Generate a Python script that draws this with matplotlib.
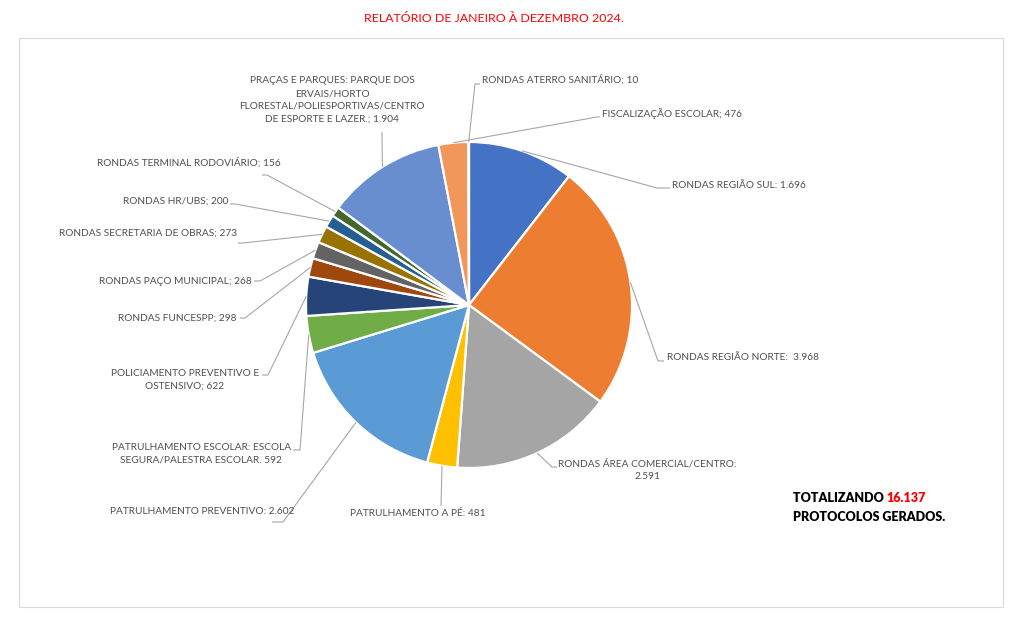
import matplotlib
matplotlib.use("Agg")
import matplotlib.pyplot as plt
import numpy as np
from matplotlib.patches import Rectangle

plt.rcParams['font.family'] = ['Lato', 'DejaVu Sans']

# ---------------- data ----------------
categories = [
    "RONDAS REGIÃO SUL",
    "RONDAS REGIÃO NORTE",
    "RONDAS ÁREA COMERCIAL/CENTRO",
    "PATRULHAMENTO A PÉ",
    "PATRULHAMENTO PREVENTIVO",
    "PATRULHAMENTO ESCOLAR: ESCOLA\nSEGURA/PALESTRA ESCOLAR",
    "POLICIAMENTO PREVENTIVO E\nOSTENSIVO",
    "RONDAS FUNCESPP",
    "RONDAS PAÇO MUNICIPAL",
    "RONDAS SECRETARIA DE OBRAS",
    "RONDAS HR/UBS",
    "RONDAS TERMINAL RODOVIÁRIO",
    "PRAÇAS E PARQUES: PARQUE DOS\nERVAIS/HORTO\nFLORESTAL/POLIESPORTIVAS/CENTRO\nDE ESPORTE E LAZER.",
    "FISCALIZAÇÃO ESCOLAR",
    "RONDAS ATERRO SANITÁRIO",
]
values = [1696, 3968, 2591, 481, 2602, 592, 622, 298, 268, 273, 200, 156, 1904, 476, 10]
separators = [": ", ":  ", ":\n", ": ", ": ", ". ", "; ", "; ", "; ", "; ", "; ", "; ", "; ", "; ", "; "]
title = "RELATÓRIO DE JANEIRO À DEZEMBRO 2024."

# ---------------- styles ----------------
colors = ["#4472C4", "#ED7D31", "#A5A5A5", "#FFC000", "#5B9BD5", "#70AD47",
          "#264478", "#9E480E", "#636363", "#997300", "#255E91", "#43682B",
          "#698ED0", "#F1975A", "#B7B7B7"]

W, H = 1024, 621
fig = plt.figure(figsize=(W / 100, H / 100), dpi=100)
ax = fig.add_axes([0, 0, 1, 1])

def Y(y):
    return H - y

cx, cy, R = 469, 305, 163
wedges, _ = ax.pie(values, colors=colors, startangle=90, counterclock=False,
                   center=(cx, Y(cy)), radius=R,
                   wedgeprops=dict(edgecolor="white", linewidth=1.6))
ax.set_xlim(0, W)
ax.set_ylim(0, H)
ax.set_aspect('equal')
ax.axis('off')

# border
ax.add_patch(Rectangle((19, Y(607)), 1003 - 19, 607 - 38, fill=False,
                       edgecolor="#D9D9D9", linewidth=0.8))

# title
ax.text(494, Y(18), title, color="#FF0000", fontsize=8.9, ha="center", va="center")

# label layout: (text x, text y, ha, knee x, knee y, tail x) in pixel coords
layout = [
    (672, 186, "left", 657, 188, 670),
    (667, 358, "left", 658, 361, 664),
    (558, 470, "left", 552, 467, 557),
    (418, 514, "center", 441, 506, 441),
    (202, 511, "center", 283, 522, 272),
    (291, 454, "right", 300, 450, 293),
    (259, 380, "right", 268, 375, 262),
    (237, 318, "right", 245, 318, 240),
    (252, 281, "right", 260, 281, 254),
    (237, 233, "right", 243, 243, 238),
    (228, 201, "right", 235, 204, 230),
    (281, 163, "right", 267, 175, 262),
    (332, 100, "center", 382, 132, 382),
    (602, 114, "left", 597, 117, 600),
    (482, 80, "left", 475, 84, 480),
]

label_color = "#4F4F4F"
line_color = "#A6A6A6"
for w, cat, val, sep, (tx, ty, ha, kx, ky, tl) in zip(wedges, categories, values, separators, layout):
    mid = np.deg2rad((w.theta1 + w.theta2) / 2)
    axp = cx + R * np.cos(mid)
    ayp = Y(cy) + R * np.sin(mid)
    vtxt = f"{val:,}".replace(",", ".")
    label = f"{cat}{sep}{vtxt}"
    ax.plot([axp, kx, tl], [ayp, Y(ky), Y(ky)], color=line_color, lw=0.8,
            solid_capstyle="butt", zorder=1)
    ax.text(tx, Y(ty), label, fontsize=7.3, color=label_color, ha=ha, va="center",
            multialignment="center", linespacing=1.55)

# total
t1 = ax.text(793, Y(498), "TOTALIZANDO ", fontsize=9, fontweight="heavy",
             color="black", ha="left", va="center")
ax.annotate(f"{sum(values):,}".replace(",", "."), xy=(1, 0), xycoords=t1,
            va="bottom", ha="left", fontsize=9, fontweight="heavy", color="#FF0000")
ax.text(793, Y(517), "PROTOCOLOS GERADOS.", fontsize=9, fontweight="heavy",
        color="black", ha="left", va="center")

fig.savefig("out.png", dpi=100)
